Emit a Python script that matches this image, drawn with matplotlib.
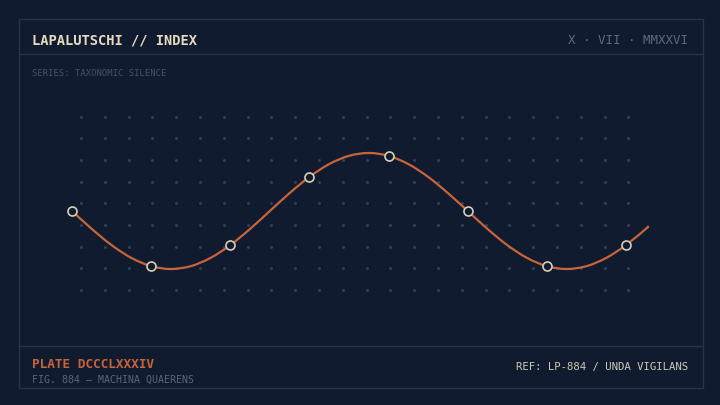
import numpy as np
import matplotlib
matplotlib.use("Agg")
import matplotlib.pyplot as plt
from matplotlib.path import Path
from matplotlib.patches import PathPatch

# curve samples (index units, one unit = one marker step)
curve_x = [i * 0.25 for i in range(30)] + [7.28]
curve_y = [0.0, -0.309, -0.588, -0.809, -0.951, -1.0, -0.951, -0.809, -0.588, -0.309,
           0.0, 0.309, 0.588, 0.809, 0.951, 1.0, 0.951, 0.809, 0.588, 0.309,
           0.0, -0.309, -0.588, -0.809, -0.951, -1.0, -0.951, -0.809, -0.588, -0.309,
           -0.27]

# marked observations
mark_x = [0, 1, 2, 3, 4, 5, 6, 7]
mark_y = [0.0, -0.951, -0.588, 0.588, 0.951, 0.0, -0.951, -0.588]

title = "LAPALUTSCHI // INDEX"
date_label = "X \u00b7 VII \u00b7 MMXXVI"
series_label = "SERIES: TAXONOMIC SILENCE"
plate_label = "PLATE DCCCLXXXIV"
fig_label = "FIG. 884 \u2014 MACHINA QUAERENS"
ref_label = "REF: LP-884 / UNDA VIGILANS"

BG = "#101b2f"
BORDER = "#27334a"
DOT = "#324058"
CREAM = "#e6dcc0"
ORANGE = "#c8643a"
MONO = ["DejaVu Sans Mono", "Liberation Mono"]


def smooth_path(xs, ys):
    # catmull-rom through the samples, as cubic bezier segments
    p = np.column_stack([xs, ys])
    verts = [p[0]]
    codes = [Path.MOVETO]
    n = len(p)
    for i in range(n - 1):
        p0 = p[max(i - 1, 0)]
        p1 = p[i]
        p2 = p[i + 1]
        p3 = p[min(i + 2, n - 1)]
        c1 = p1 + (p2 - p0) / 6.0
        c2 = p2 - (p3 - p1) / 6.0
        verts += [c1, c2, p2]
        codes += [Path.CURVE4] * 3
    return Path(verts, codes)


W, H = 720, 405
fig = plt.figure(figsize=(7.2, 4.05), dpi=100, facecolor=BG)

# overlay in pixel coordinates for frame, dots and text
ov = fig.add_axes([0, 0, 1, 1])
ov.set_xlim(0, W)
ov.set_ylim(H, 0)
ov.axis("off")
ov.set_facecolor(BG)

ov.add_patch(plt.Rectangle((18.5, 18.5), 684, 369, fill=False, ec=BORDER, lw=1.0))
ov.plot([18.5, 702.5], [54, 54], color=BORDER, lw=1.0)
ov.plot([18.5, 702.5], [346, 346], color=BORDER, lw=1.0)

gx, gy = np.meshgrid(81 + 23.8 * np.arange(24), 116.7 + 21.67 * np.arange(9))
ov.scatter(gx.ravel(), gy.ravel(), s=4.5, color=DOT, linewidths=0, zorder=1)

ov.text(32, 40, title, family=MONO, weight="bold", fontsize=9.9, color=CREAM,
        va="center", ha="left")
ov.text(688, 40, date_label, family=MONO, fontsize=8.9, color="#5d697e",
        va="center", ha="right")
ov.text(32, 73.5, series_label, family=MONO, fontsize=6.4, color="#46526a",
        va="center", ha="left")
ov.text(32, 365, plate_label, family=MONO, weight="bold", fontsize=9.2, color=ORANGE,
        va="center", ha="left")
ov.text(32, 380, fig_label, family=MONO, fontsize=7.1, color="#5a667d",
        va="center", ha="left")
ov.text(688, 367, ref_label, family=MONO, fontsize=7.7, color="#cfc8b4",
        va="center", ha="right")

# data axes: x px = 72 + 79.14*x, y px = 211 - 58*v
left_px, right_px, top_px, bot_px = 60, 660, 100, 320
ax = fig.add_axes([left_px / W, 1 - bot_px / H, (right_px - left_px) / W,
                   (bot_px - top_px) / H])
ax.set_xlim((left_px - 72) / 79.14, (right_px - 72) / 79.14)
ax.set_ylim((211 - bot_px) / 58, (211 - top_px) / 58)
ax.axis("off")
ax.patch.set_alpha(0)

ax.add_patch(PathPatch(smooth_path(curve_x, curve_y), fill=False, ec=ORANGE, lw=1.6,
                       capstyle="round", zorder=2))
ax.scatter(mark_x, mark_y, s=42, facecolor=BG, edgecolor="#d8cfb8", linewidths=1.2,
           zorder=3)

fig.savefig("out.png", dpi=100, facecolor=BG)
